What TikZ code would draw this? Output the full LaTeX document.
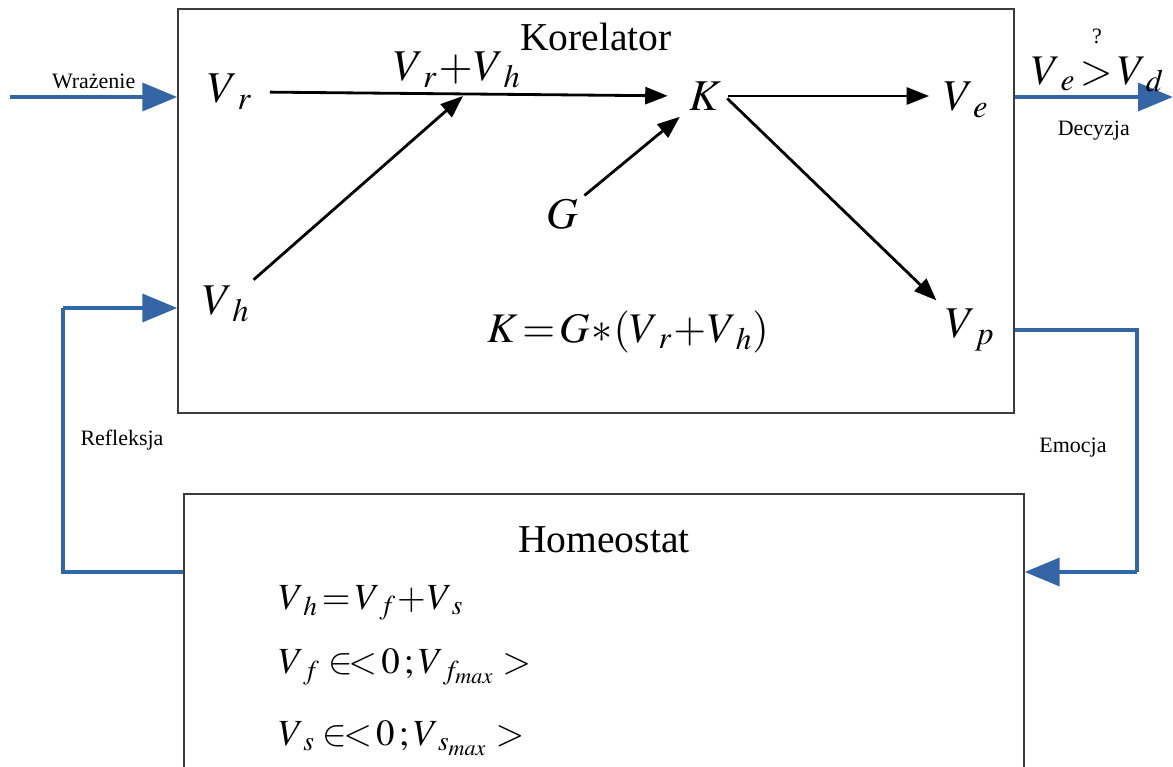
\documentclass[tikz,border=0pt]{standalone}
\usepackage{mathptmx}
\usepackage{fontspec}
\setmainfont{Liberation Serif}
\usetikzlibrary{arrows.meta,positioning}
\definecolor{flowBlue}{RGB}{52,101,164}
\definecolor{frameGray}{RGB}{60,60,60}
\newcommand{\vsub}[1]{V_{\mkern4mu #1}}

\begin{document}
\begin{tikzpicture}[x=0.02cm, y=-0.02cm,
  blockbox/.style={draw=frameGray, line width=0.8pt, rectangle, inner sep=0pt},
  title/.style={font=\fontsize{22.5}{26}\selectfont, inner sep=0pt},
  var/.style={font=\fontsize{25}{30}\selectfont, inner sep=2pt},
  eqn/.style={font=\fontsize{21}{26}\selectfont, inner sep=0pt, anchor=west},
  lbl/.style={font=\fontsize{12.5}{15}\selectfont, inner sep=0pt, text=black},
  sig/.style={-{Triangle[length=4.5mm, width=3.4mm]}, line width=1.6pt, black},
  flow/.style={-{Triangle[length=7mm, width=5.5mm]}, line width=2.8pt, flowBlue},
  flowline/.style={line width=2.8pt, flowBlue}
]
\useasboundingbox (0,0) rectangle (1173,767);
\clip (0,0) rectangle (1173,767);

% blocks
\node[blockbox, minimum width=16.72cm, minimum height=8.08cm] (kor) at (596,211) {};
\node[blockbox, minimum width=16.8cm, minimum height=6.4cm] (hom) at (604,654) {};
\node[title] (kortitle) at (596,37) {Korelator};
\node[title] (homtitle) at (604,540) {Homeostat};

% variables of the correlator
\node[var] (vr) at (230,92) {$\vsub{r}$};
\node[var] (vh) at (226,304) {$\vsub{h}$};
\node[var] (g)  at (562,214) {$G$};
\node[var] (k)  at (705,96)  {$K$};
\node[var] (ve) at (966,100) {$\vsub{e}$};
\node[var] (vp) at (970,330) {$\vsub{p}$};
\coordinate (j) at (463,96);
\node[var, inner sep=0pt] (sum) at (457,70) {$\vsub{r}\!+\!\vsub{h}$};
\node[var, font=\fontsize{24}{30}\selectfont] (kform) at (628,332)
  {$K\!=\!G\!*\!\left(\vsub{r}\!+\!\vsub{h}\right)$};

% homeostat equations
\node[eqn] (e1) at (278,603) {$\vsub{h}\!=\!\vsub{f}\!+\!\vsub{s}$};
\node[eqn] (e2) at (278,667) {$\vsub{f}\in\!<\!0\,;\vsub{f_{max}}>$};
\node[eqn] (e3) at (278,738) {$\vsub{s}\in\!<\!0\,;\vsub{s_{max}}>$};

% signal arrows
\draw[sig, shorten <=8pt, shorten >=10pt] (vr.east) -- (k.west);
\draw[sig, shorten <=2pt] (vh) -- (j);
\draw[sig, shorten <=2pt, shorten >=4pt] (g) -- (k);
\draw[sig, shorten <=2pt, shorten >=6pt] (k.east) -- (ve.west |- k.east);
\draw[sig, shorten <=2pt, shorten >=4pt] (k.east) -- (vp.north west);

% flows between the blocks
\coordinate (inleft) at (10,97);
\coordinate (outright) at (1173,97);
\draw[flow] (inleft) -- (inleft -| kor.west)
  node[lbl, midway, above=3pt] (wr) {Wrażenie};
\draw[flow] (outright -| kor.east) -- (outright)
  node[lbl, midway, below=12pt] (dec) {Decyzja};
\node[var, inner sep=0pt, font=\fontsize{24}{30}\selectfont] (cmp) at (1098,74) {$\vsub{e}\!>\!\vsub{d}$};
\node[lbl] (qm) at (1097,36) {?};

\coordinate (emo) at (1137,572);
\coordinate (ref) at (63,572);
\coordinate (refup) at (63,308);
\draw[flowline] (kor.east |- vp) -| (emo);
\draw[flow] (emo) -- (emo -| hom.east);
\node[lbl] (emolbl) at (1073,448) {Emocja};
\draw[flowline] (ref -| hom.west) -- (ref) -- (refup);
\draw[flow] (refup) -- (refup -| kor.west);
\node[lbl] (reflbl) at (122,440) {Refleksja};
\end{tikzpicture}
\end{document}
